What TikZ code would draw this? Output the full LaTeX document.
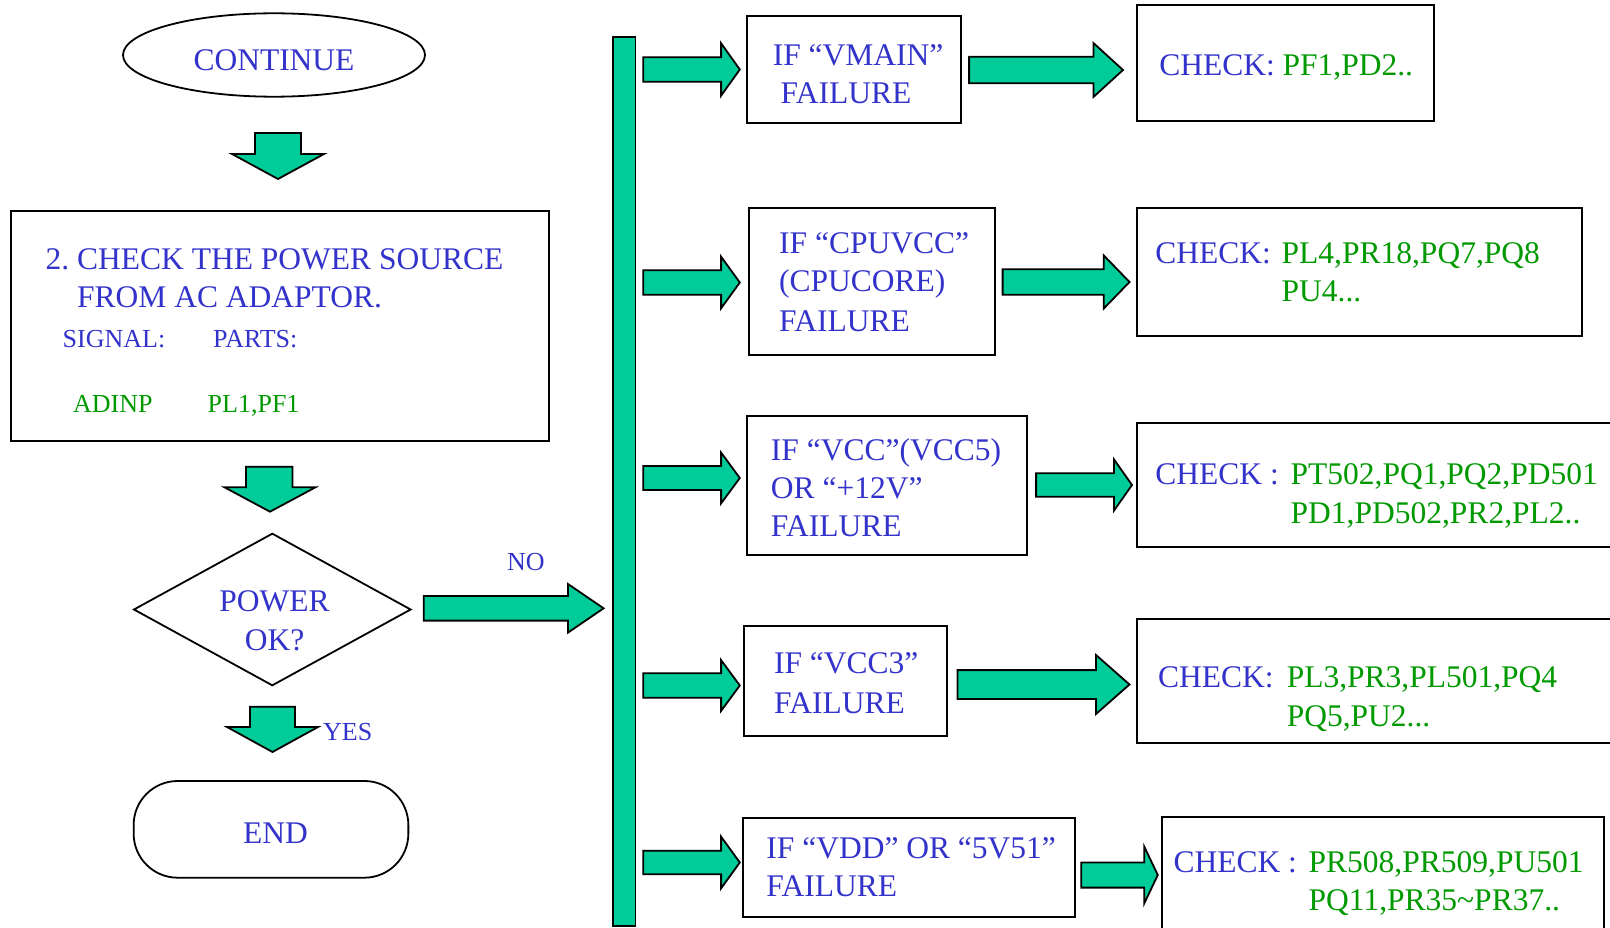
\documentclass[tikz,border=0pt]{standalone}
\usepackage{fontspec}
\setmainfont{Liberation Serif}
\usetikzlibrary{shapes.geometric}
\definecolor{tblue}{RGB}{51,51,204}
\definecolor{tgreen}{RGB}{0,153,0}
\definecolor{tfill}{RGB}{0,204,153}
\tikzset{
  box/.style={draw=black, line width=2pt, rectangle, inner sep=0pt},
  blockarrow/.style={draw=black, line width=1.8pt, fill=tfill, line join=miter},
  txt/.style={anchor=base west, inner sep=0pt, text=tblue, font=\fontsize{31.5}{37.8}\selectfont},
  ctxt/.style={txt, anchor=base},
  stxt/.style={txt, font=\fontsize{26}{31}\selectfont},
  gtxt/.style={stxt, text=tgreen},
}
% x1, xhead, xtip, ycentre, shaft half height, head half height
\newcommand\RArrow[6]{%
  \draw[blockarrow] (#1,#4-#5) -- (#2,#4-#5) -- (#2,#4-#6) -- (#3,#4) -- (#2,#4+#6) -- (#2,#4+#5) -- (#1,#4+#5) -- cycle;}
% xl, xr (shaft), ytop, yhead, hxl, hxr, ytip
\newcommand\DArrow[7]{%
  \draw[blockarrow] (#1,#3) -- (#2,#3) -- (#2,#4) -- (#6,#4) -- ({(#5+#6)/2},#7) -- (#5,#4) -- (#1,#4) -- cycle;}
\begin{document}
\begin{tikzpicture}[x=1pt,y=-1pt]
\clip (0,0) rectangle (1610,928);
\fill[white] (0,0) rectangle (1610,928);

% ---------- left column ----------
\node[draw=black, line width=1.8pt, ellipse, minimum width=302, minimum height=83.4, inner sep=0pt] (cont) at (274,55) {};
\node[ctxt] (contt) at (274,70.7) {CONTINUE};

\DArrow{255}{301}{133}{154}{232}{324}{179}

\node[box, minimum width=538.3, minimum height=230] (src) at (279.85,325.7) {};
\node[txt] (s1) at (45.5,270) {2.\ CHECK THE POWER SOURCE};
\node[txt] (s2) at (77,308) {FROM AC ADAPTOR.};
\node[stxt] (s3) at (62.5,347) {SIGNAL:};
\node[stxt] (s4) at (213,347) {PARTS:};
\node[gtxt] (s5) at (73,412) {ADINP};
\node[gtxt] (s6) at (207.5,412) {PL1,PF1};

\DArrow{246}{292.5}{466.7}{487.3}{224.5}{315.5}{511.7}

\node[draw=black, line width=1.8pt, diamond, minimum width=277.4, minimum height=152.4, inner sep=0pt] (pok) at (272.3,609.5) {};
\node[ctxt] (p1) at (274.5,611.7) {POWER};
\node[ctxt] (p2) at (274.7,650.7) {OK?};

\RArrow{423.7}{568}{603.6}{608.3}{12.3}{24.3}
\node[stxt] (no) at (507,570) {NO};

\DArrow{250}{295}{706.7}{727}{227}{318}{752}
\node[stxt] (yes) at (323,740) {YES};

\node[draw=black, line width=1.8pt, rectangle, rounded corners=44, minimum width=274.7, minimum height=96.7, inner sep=0pt] (end) at (271,829.35) {};
\node[ctxt] (endt) at (275.5,843.3) {END};

% ---------- vertical bar ----------
\node[draw=black, line width=1.8pt, fill=tfill, rectangle, minimum width=22.5, minimum height=889, inner sep=0pt] (bar) at (624.25,481.5) {};

% ---------- row 1 ----------
\RArrow{643.2}{721.1}{739.8}{69.5}{12.2}{26.2}
\node[box, minimum width=213.8, minimum height=107.6] (v1) at (853.8,69.5) {};
\node[txt] at (772.6,65.7) {IF “VMAIN”};
\node[txt] at (780.4,103.3) {FAILURE};
\RArrow{969.1}{1093.4}{1123}{70}{13.3}{27}
\node[box, minimum width=297.6, minimum height=115.7] (c1) at (1285.4,62.85) {};
\node[txt] at (1159.1,76) {CHECK: \textcolor{tgreen}{PF1,PD2..}};

% ---------- row 2 ----------
\RArrow{643.2}{721.1}{739.8}{282.5}{12.2}{25.8}
\node[box, minimum width=245.4, minimum height=147.3] (v2) at (872.1,281.35) {};
\node[txt] at (779,254) {IF “CPUVCC”};
\node[txt] at (779,291.7) {(CPUCORE)};
\node[txt] at (779,331) {FAILURE};
\RArrow{1002.6}{1103.7}{1129.5}{282}{12.8}{26.6}
\node[box, minimum width=445.7, minimum height=127.7] (c2) at (1359.45,272.15) {};
\node[txt] at (1155.2,263.3) {CHECK:};
\node[txt, text=tgreen] at (1281.5,263.3) {PL4,PR18,PQ7,PQ8};
\node[txt, text=tgreen] at (1281.5,301.7) {PU4...};

% ---------- row 3 ----------
\RArrow{643.2}{721.1}{739.8}{478}{12}{25.4}
\node[box, minimum width=280.2, minimum height=138.8] (v3) at (887,485.4) {};
\node[txt] at (770.7,460.4) {IF “VCC”(VCC5)};
\node[txt] at (770.7,498.8) {OR “+12V”};
\node[txt] at (770.7,536.2) {FAILURE};
\RArrow{1036.1}{1114}{1132}{485}{11.7}{25.6}
\node[box, minimum width=503.4, minimum height=124.4] (c3) at (1388.3,484.8) {};
\node[txt] at (1155.2,484.9) {CHECK :};
\node[txt, text=tgreen] at (1290.5,484.9) {PT502,PQ1,PQ2,PD501};
\node[txt, text=tgreen] at (1290.5,523.3) {PD1,PD502,PR2,PL2..};

% ---------- row 4 ----------
\RArrow{643.2}{721.1}{739.8}{685.5}{12.2}{25.4}
\node[box, minimum width=202.2, minimum height=109.8] (v4) at (845.4,680.6) {};
\node[txt] at (773.9,673.6) {IF “VCC3”};
\node[txt] at (773.9,713.8) {FAILURE};
\RArrow{957.5}{1096}{1129.5}{684.5}{14.4}{29.5}
\node[box, minimum width=503.4, minimum height=124.1] (c4) at (1388.3,680.75) {};
\node[txt] at (1157.8,687.6) {CHECK:};
\node[txt, text=tgreen] at (1286.6,687.6) {PL3,PR3,PL501,PQ4};
\node[txt, text=tgreen] at (1286.6,726) {PQ5,PU2...};

% ---------- row 5 ----------
\RArrow{643.2}{721.1}{739.8}{862.5}{11.8}{25.8}
\node[box, minimum width=331.7, minimum height=99] (v5) at (908.85,867.5) {};
\node[txt] at (766.2,858.8) {IF “VDD” OR “5V51”};
\node[txt] at (766.2,896.6) {FAILURE};
\RArrow{1081.2}{1144.3}{1157.8}{875}{12.6}{28.3}
\node[box, minimum width=441.2, minimum height=143] (c5) at (1382.9,888.5) {};
\node[txt] at (1173.3,872.8) {CHECK :};
\node[txt, text=tgreen] at (1308.5,872.8) {PR508,PR509,PU501};
\node[txt, text=tgreen] at (1308.5,910.6) {PQ11,PR35\textasciitilde PR37..};
\end{tikzpicture}
\end{document}
